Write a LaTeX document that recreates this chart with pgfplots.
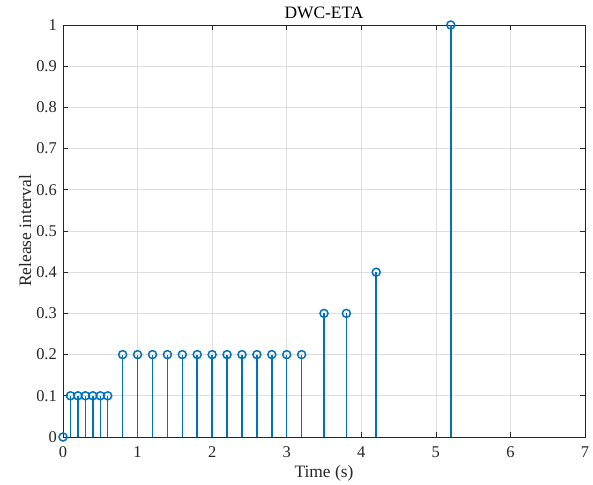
\documentclass[border=0pt]{standalone}
\usepackage{fontspec}
\setmainfont{Liberation Serif}
\usepackage{pgfplots}
\pgfplotsset{compat=1.18}
\definecolor{mblue}{RGB}{0,114,189}
\definecolor{mgrid}{RGB}{222,222,222}
\definecolor{maxis}{RGB}{38,38,38}
\begin{document}
\begin{tikzpicture}[x=1bp,y=1bp]
\begin{axis}[
  scale only axis,
  width=522bp, height=412bp,
  xmin=0, xmax=7, ymin=0, ymax=1,
  xtick={0,1,...,7},
  ytick={0,0.1,...,1},
  yticklabels={0,0.1,0.2,0.3,0.4,0.5,0.6,0.7,0.8,0.9,1},
  grid=major,
  major grid style={mgrid, line width=0.7bp},
  axis line style={maxis, line width=0.7bp},
  tick style={maxis, line width=0.7bp},
  major tick length=5bp,
  tick align=inside,
  /pgf/number format/assume math mode=true,
  ticklabel style={font=\fontsize{16.5}{18}\selectfont, text=maxis},
  xticklabel style={anchor=base, yshift=-20bp},
  yticklabel style={anchor=east, inner xsep=0pt, xshift=-6bp},
  xlabel={Time (s)}, ylabel={Release interval},
  label style={font=\fontsize{17.5}{19}\selectfont, text=maxis},
  xlabel style={at={(axis description cs:0.5,-0.0995)}, anchor=base},
  ylabel style={at={(axis description cs:-0.0613,0.5)}, anchor=base},
  clip=false,
]
\addplot[ycomb, mblue, line width=1.5bp, mark=o, mark size=4bp,
  mark options={line width=1.5bp, fill=none}] coordinates {
  (0,0) (0.1,0.1) (0.2,0.1) (0.3,0.1) (0.4,0.1) (0.5,0.1) (0.6,0.1)
  (0.8,0.2) (1.0,0.2) (1.2,0.2) (1.4,0.2) (1.6,0.2) (1.8,0.2) (2.0,0.2)
  (2.2,0.2) (2.4,0.2) (2.6,0.2) (2.8,0.2) (3.0,0.2) (3.2,0.2)
  (3.5,0.3) (3.8,0.3) (4.2,0.4) (5.2,1)
};
\end{axis}
\node[anchor=base, font=\fontsize{17.5}{19}\selectfont, inner sep=0pt]
  at ([yshift=6bp]current axis.north) {DWC-ETA};
\pgfresetboundingbox
\path ([shift={(-63bp,-48bp)}]current axis.south west) rectangle ([shift={(8bp,25bp)}]current axis.north east);
\end{tikzpicture}
\end{document}
